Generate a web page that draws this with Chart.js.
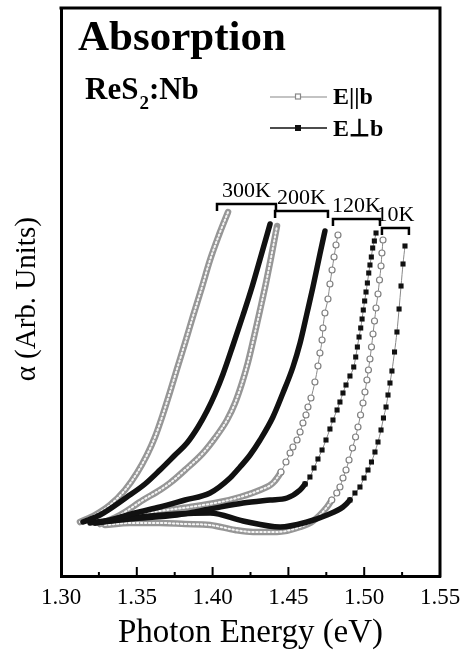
<!DOCTYPE html>
<html>
<head>
<meta charset="utf-8">
<script src="https://cdn.jsdelivr.net/npm/chart.js@4.4.0/dist/chart.umd.min.js"></script>
<style>
  html, body { margin: 0; padding: 0; background: #fff; }
  canvas { display: block; }
</style>
</head>
<body>
<canvas id="myChart" width="462" height="658"></canvas>
<script>
// photon energy (eV) and absorption (arb. units)
const energy300Par = [1.3125,1.3224,1.3323,1.3422,1.3501,1.3567,1.3620,1.3673,1.3719,1.3765,1.3818,1.3871,1.3930,1.3983,1.4042,1.4102]
const alpha300Par = [0.54,0.61,0.71,0.86,1.03,1.21,1.39,1.62,1.84,2.07,2.33,2.60,2.89,3.16,3.41,3.64]

const energy300Perp = [1.3145,1.3257,1.3435,1.3554,1.3653,1.3752,1.3831,1.3904,1.3963,1.4016,1.4069,1.4135,1.4201,1.4260,1.4319,1.4379]
const alpha300Perp = [0.54,0.61,0.79,0.92,1.06,1.21,1.33,1.49,1.65,1.82,2.02,2.31,2.61,2.89,3.20,3.52]

const energy200Par = [1.3257,1.3389,1.3541,1.3653,1.3719,1.3818,1.3937,1.4016,1.4095,1.4148,1.4194,1.4234,1.4273,1.4313,1.4352,1.4385,1.4425]
const alpha200Par = [0.52,0.61,0.76,0.86,0.93,1.06,1.23,1.38,1.56,1.73,1.93,2.14,2.39,2.66,2.93,3.18,3.50]

const energy200Perp = [1.3191,1.3323,1.3488,1.3653,1.3818,1.3983,1.4115,1.4181,1.4247,1.4313,1.4398,1.4464,1.4530,1.4577,1.4623,1.4662,1.4708,1.4741]
const alpha200Perp = [0.53,0.56,0.63,0.69,0.76,0.83,0.98,1.09,1.21,1.36,1.59,1.83,2.09,2.33,2.63,2.89,3.22,3.45]

const energy120Par = [1.3290,1.3455,1.3653,1.3851,1.4049,1.4181,1.4313,1.4398,1.4451,1.4484,1.4511,1.4530,1.4557,1.4577,1.4596,1.4616,1.4629,1.4649,1.4675,1.4695,1.4708,1.4722,1.4728,1.4741,1.4761,1.4774,1.4788,1.4801,1.4814,1.4827]
const alpha120Par = [0.52,0.60,0.65,0.69,0.74,0.79,0.86,0.93,1.04,1.14,1.23,1.29,1.36,1.44,1.53,1.61,1.69,1.78,1.94,2.10,2.23,2.36,2.48,2.63,2.77,2.92,3.06,3.19,3.31,3.41]

const energy120Perp = [1.3224,1.3455,1.3765,1.3983,1.4201,1.4379,1.4491,1.4577,1.4610,1.4642,1.4669,1.4695,1.4722,1.4748,1.4774,1.4794,1.4821,1.4840,1.4860,1.4880,1.4906,1.4931,1.4944,1.4955,1.4966,1.4977,1.4986,1.4994,1.5003,1.5012,1.5021,1.5030,1.5038,1.5047,1.5056,1.5067,1.5078]
const alpha120Perp = [0.53,0.57,0.61,0.67,0.73,0.76,0.78,0.86,0.92,0.99,1.08,1.17,1.26,1.36,1.47,1.56,1.66,1.74,1.83,1.91,2.00,2.09,2.19,2.29,2.39,2.48,2.57,2.66,2.75,2.84,2.93,3.03,3.11,3.19,3.28,3.35,3.43]

const energy10Par = [1.3290,1.3455,1.3653,1.3818,1.3983,1.4148,1.4267,1.4425,1.4577,1.4662,1.4755,1.4786,1.4819,1.4840,1.4860,1.4880,1.4900,1.4923,1.4943,1.4959,1.4976,1.4992,1.5005,1.5018,1.5028,1.5038,1.5048,1.5058,1.5068,1.5078,1.5091,1.5101,1.5111,1.5117,1.5124]
const alpha10Par = [0.51,0.53,0.53,0.52,0.51,0.46,0.44,0.44,0.49,0.55,0.69,0.76,0.83,0.89,0.98,1.06,1.16,1.28,1.39,1.49,1.61,1.73,1.84,1.96,2.06,2.17,2.29,2.42,2.55,2.68,2.82,2.96,3.10,3.23,3.36]

const energy10Perp = [1.3224,1.3455,1.3765,1.3983,1.4201,1.4445,1.4623,1.4755,1.4860,1.4906,1.4939,1.4972,1.4999,1.5025,1.5048,1.5071,1.5091,1.5111,1.5127,1.5144,1.5157,1.5170,1.5183,1.5200,1.5216,1.5230,1.5243,1.5256,1.5269]
const alpha10Perp = [0.53,0.58,0.62,0.63,0.55,0.49,0.54,0.61,0.69,0.76,0.83,0.89,0.98,1.06,1.14,1.24,1.34,1.46,1.58,1.69,1.81,1.93,2.05,2.24,2.44,2.67,2.90,3.12,3.30]

// x axis ticks
const tickValues = [1.30, 1.35, 1.40, 1.45, 1.50, 1.55]
const minorTicks = [1.325, 1.375, 1.425, 1.475, 1.525]

// temperature brackets over the curve tops
const bracketLabels = ['300K', '200K', '120K', '10K']
const bracketFrom = [1.4029, 1.4412, 1.4794, 1.5117]
const bracketTo = [1.4418, 1.4761, 1.5104, 1.5295]
const bracketLevel = [3.72, 3.65, 3.57, 3.48]

const FONT = 'Liberation Serif'
const GREY = '#969696'

// pol: 'par' = E||b (open circles), 'perp' = E⊥b (filled squares)
// thinFrom: energy above which the markers stand apart on a thin line
const curves = [
  { energy: energy300Par, alpha: alpha300Par, pol: 'par', thinFrom: Infinity },
  { energy: energy300Perp, alpha: alpha300Perp, pol: 'perp', thinFrom: Infinity },
  { energy: energy200Par, alpha: alpha200Par, pol: 'par', thinFrom: Infinity },
  { energy: energy200Perp, alpha: alpha200Perp, pol: 'perp', thinFrom: Infinity },
  { energy: energy120Par, alpha: alpha120Par, pol: 'par', thinFrom: 1.445 },
  { energy: energy120Perp, alpha: alpha120Perp, pol: 'perp', thinFrom: 1.460 },
  { energy: energy10Par, alpha: alpha10Par, pol: 'par', thinFrom: 1.478 },
  { energy: energy10Perp, alpha: alpha10Perp, pol: 'perp', thinFrom: 1.490 },
]

const datasets = []
curves.forEach(c => {
  const pts = c.energy.map((e, i) => ({ x: e, y: c.alpha[i] }))
  const par = c.pol === 'par'
  const thin = ctx => c.energy[ctx.p0DataIndex] >= c.thinFrom
  datasets.push({
    data: pts,
    order: par ? 3 : 1,
    borderColor: par ? GREY : '#111',
    borderWidth: par ? 6.5 : 5.5,
    cubicInterpolationMode: 'monotone',
    pointStyle: par ? 'circle' : 'rect',
    pointRadius: ctx => c.energy[ctx.dataIndex] >= c.thinFrom ? (par ? 3 : 3.6) : 0,
    pointBackgroundColor: par ? '#fff' : '#111',
    pointBorderColor: par ? '#808080' : '#111',
    pointBorderWidth: par ? 1.2 : 0,
    segment: {
      borderWidth: ctx => thin(ctx) ? 1 : undefined,
      borderColor: ctx => thin(ctx) ? '#888' : undefined
    }
  })
  // white core of the open-circle chains
  if (par) {
    datasets.push({
      data: pts,
      order: 2,
      borderColor: 'rgba(255,255,255,0.9)',
      borderWidth: 2,
      borderDash: [1.5, 2.5],
      pointRadius: 0,
      cubicInterpolationMode: 'monotone',
      segment: {
        borderColor: ctx => thin(ctx) ? 'rgba(0,0,0,0)' : undefined
      }
    })
  }
})

const decor = {
  id: 'decor',
  afterDraw(chart) {
    const { ctx, chartArea: a, scales: { x, y } } = chart
    ctx.save()
    ctx.strokeStyle = '#000'
    ctx.fillStyle = '#000'

    // top and right frame
    ctx.lineWidth = 3
    ctx.beginPath()
    ctx.moveTo(a.left - 1.5, a.top)
    ctx.lineTo(a.right, a.top)
    ctx.lineTo(a.right, a.bottom + 1.5)
    ctx.stroke()

    // inward ticks
    ctx.lineWidth = 2
    tickValues.forEach(v => {
      const px = x.getPixelForValue(v)
      ctx.beginPath(); ctx.moveTo(px, a.bottom); ctx.lineTo(px, a.bottom - 9); ctx.stroke()
    })
    minorTicks.forEach(v => {
      const px = x.getPixelForValue(v)
      ctx.beginPath(); ctx.moveTo(px, a.bottom); ctx.lineTo(px, a.bottom - 4); ctx.stroke()
    })

    // brackets
    ctx.lineWidth = 2.5
    ctx.textAlign = 'center'
    ctx.textBaseline = 'alphabetic'
    ctx.font = `22px ${FONT}`
    bracketLabels.forEach((t, i) => {
      const x0 = x.getPixelForValue(bracketFrom[i])
      const x1 = x.getPixelForValue(bracketTo[i])
      const yy = y.getPixelForValue(bracketLevel[i])
      ctx.beginPath()
      ctx.moveTo(x0, yy + 7); ctx.lineTo(x0, yy); ctx.lineTo(x1, yy); ctx.lineTo(x1, yy + 7)
      ctx.stroke()
      ctx.fillText(t, (x0 + x1) / 2, yy - 7)
    })

    // titles
    ctx.textAlign = 'left'
    ctx.font = `bold 43px ${FONT}`
    ctx.fillText('Absorption', a.left + 17, a.top + 42)

    let tx = a.left + 24
    ctx.font = `bold 31px ${FONT}`
    ctx.fillText('ReS', tx, a.top + 91)
    tx += ctx.measureText('ReS').width + 1
    ctx.font = `bold 19px ${FONT}`
    ctx.fillText('2', tx, a.top + 101)
    tx += ctx.measureText('2').width
    ctx.font = `bold 31px ${FONT}`
    ctx.fillText(':Nb', tx, a.top + 91)

    // legend
    ctx.strokeStyle = '#888'
    ctx.lineWidth = 1.2
    ctx.beginPath(); ctx.moveTo(270, 97); ctx.lineTo(327, 97); ctx.stroke()
    ctx.fillStyle = '#fff'
    ctx.fillRect(295.5, 94, 5, 5)
    ctx.strokeRect(295.5, 94, 5, 5)
    ctx.strokeStyle = '#111'
    ctx.lineWidth = 1.5
    ctx.beginPath(); ctx.moveTo(270, 128); ctx.lineTo(327, 128); ctx.stroke()
    ctx.fillStyle = '#111'
    ctx.fillRect(295, 125, 6, 6)
    ctx.fillStyle = '#000'
    ctx.font = `bold 24px ${FONT}`
    ctx.fillText('E||b', 333, 104)
    ctx.fillText('E\u22A5b', 333, 136)

    ctx.restore()
  }
}

const myChart = new Chart(document.getElementById('myChart'), {
  type: 'line',
  data: { datasets: datasets },
  options: {
    responsive: false,
    animation: false,
    devicePixelRatio: 1,
    events: [],
    layout: { padding: { top: 8, right: 0, left: 0, bottom: 0 } },
    plugins: { legend: { display: false }, tooltip: { enabled: false } },
    elements: { line: { borderJoinStyle: 'round', borderCapStyle: 'round' } },
    scales: {
      x: {
        type: 'linear',
        min: 1.30,
        max: 1.55,
        afterBuildTicks: s => { s.ticks = tickValues.map(v => ({ value: v })) },
        ticks: {
          callback: v => v.toFixed(2),
          font: { family: FONT, size: 23 },
          color: '#000',
          padding: 8,
          maxRotation: 0,
          autoSkip: false
        },
        grid: { display: false, drawTicks: false },
        border: { color: '#000', width: 3 },
        title: {
          display: true,
          text: 'Photon Energy (eV)',
          font: { family: FONT, size: 33 },
          color: '#000',
          padding: { top: 0, bottom: 5 }
        },
        afterFit: s => {
          s.height = 82
          s.paddingRight = 22
        }
      },
      y: {
        min: 0,
        max: 5.68,
        ticks: { display: false },
        grid: { display: false, drawTicks: false },
        border: { color: '#000', width: 3 },
        title: {
          display: true,
          text: 'α (Arb. Units)  ',
          font: { family: FONT, size: 29 },
          color: '#000',
          padding: { top: 10, bottom: 0 }
        },
        afterFit: s => { s.width = 61 }
      }
    }
  },
  plugins: [decor]
})
</script>
</body>
</html>
